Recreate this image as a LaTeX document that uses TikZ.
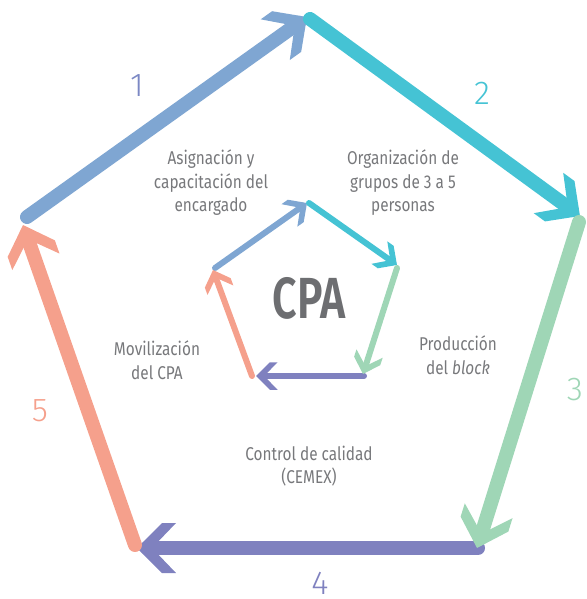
\documentclass[tikz,border=0pt]{standalone}
\usepackage{fontspec}
\setmainfont{Fira Sans}
\newfontfamily\lblfont{Fira Sans}[FakeStretch=0.83]
\newfontfamily\cpafont{Fira Sans SemiBold}[FakeStretch=0.74]
\newfontfamily\numfont{Fira Sans Light}
\usetikzlibrary{decorations.markings}
\definecolor{cA}{HTML}{7FA6D2}
\definecolor{cB}{HTML}{45C3D4}
\definecolor{cC}{HTML}{9FD6B6}
\definecolor{cD}{HTML}{7F81BF}
\definecolor{cE}{HTML}{F5A08C}
\definecolor{nA}{HTML}{7B88C4}
\definecolor{txt}{HTML}{77787B}
\definecolor{cpa}{HTML}{6D6E71}
\tikzset{
  bigarr/.style={draw=#1, line width=14pt, line cap=round, shorten >=10pt,
    postaction={decorate, decoration={markings, mark=at position 1 with {
      \fill[#1] (0,0)--(-25,25)--(-39,25)--(-15,0)--(-39,-25)--(-25,-25)--cycle;}}}},
  smallarr/.style={draw=#1, line width=6pt, line cap=round, shorten >=5pt,
    postaction={decorate, decoration={markings, mark=at position 1 with {
      \fill[#1] (0,0)--(-13.75,13.75)--(-21.5,13.75)--(-8.25,0)--(-21.5,-13.75)--(-13.75,-13.75)--cycle;}}}},
  lbl/.style={text=txt, font=\lblfont\fontsize{18.5}{23.5}\selectfont, align=center, inner sep=0pt},
  num/.style={font=\numfont\fontsize{33}{33}\selectfont, inner sep=0pt},
}
\begin{document}
\begin{tikzpicture}[x=1pt,y=-1pt]
\useasboundingbox (0,0) rectangle (586,599);
% big pentagon
\coordinate (a1) at (27,217);  \coordinate (a2) at (307,17);
\coordinate (b1) at (310,19);  \coordinate (b2) at (580,216);
\coordinate (c1) at (579,222); \coordinate (c2) at (477,548);
\coordinate (d1) at (478,548); \coordinate (d2) at (137,548);
\coordinate (e1) at (135,545); \coordinate (e2) at (23,225);
\draw[bigarr=cA] (a1) -- (a2);
\draw[bigarr=cB] (b1) -- (b2);
\draw[bigarr=cD] (d1) -- (d2);
\draw[bigarr=cC] (c1) -- (c2);
\draw[bigarr=cE] (e1) -- (e2);
% small pentagon
\coordinate (p1) at (215,268); \coordinate (p2) at (307,203);
\coordinate (q1) at (309,203); \coordinate (q2) at (397,265);
\coordinate (r1) at (397,268); \coordinate (r2) at (363,374);
\coordinate (s1) at (364,376); \coordinate (s2) at (256,376);
\coordinate (t1) at (252,376); \coordinate (t2) at (213,270);
\draw[smallarr=cA] (p1) -- (p2);
\draw[smallarr=cB] (q1) -- (q2);
\draw[smallarr=cD] (s1) -- (s2);
\draw[smallarr=cC] (r1) -- (r2);
\draw[smallarr=cE] (t1) -- (t2);
% numbers
\node[num, text=nA] (n1) at (137,86) {1};
\node[num, text=cB] (n2) at (482,93) {2};
\node[num, text=cC] (n3) at (575,390) {3};
\node[num, text=cD] (n4) at (320,583.5) {4};
\node[num, text=cE] (n5) at (40,411) {5};
% center
\node[text=cpa, font=\cpafont\fontsize{58}{58}\selectfont, inner sep=0pt] (cpa) at (309,298) {CPA};
% labels
\node[lbl] (l1) at (211,183) {Asignación y\\capacitación del\\encargado};
\node[lbl] (l2) at (403,183) {Organización de\\grupos de 3 a 5\\personas};
\node[lbl] (l3) at (458,355) {Producción\\del \textit{block}};
\node[lbl] (l4) at (309,466) {Control de calidad\\(CEMEX)};
\node[lbl] (l5) at (157,360) {Movilización\\del CPA};
\end{tikzpicture}
\end{document}
